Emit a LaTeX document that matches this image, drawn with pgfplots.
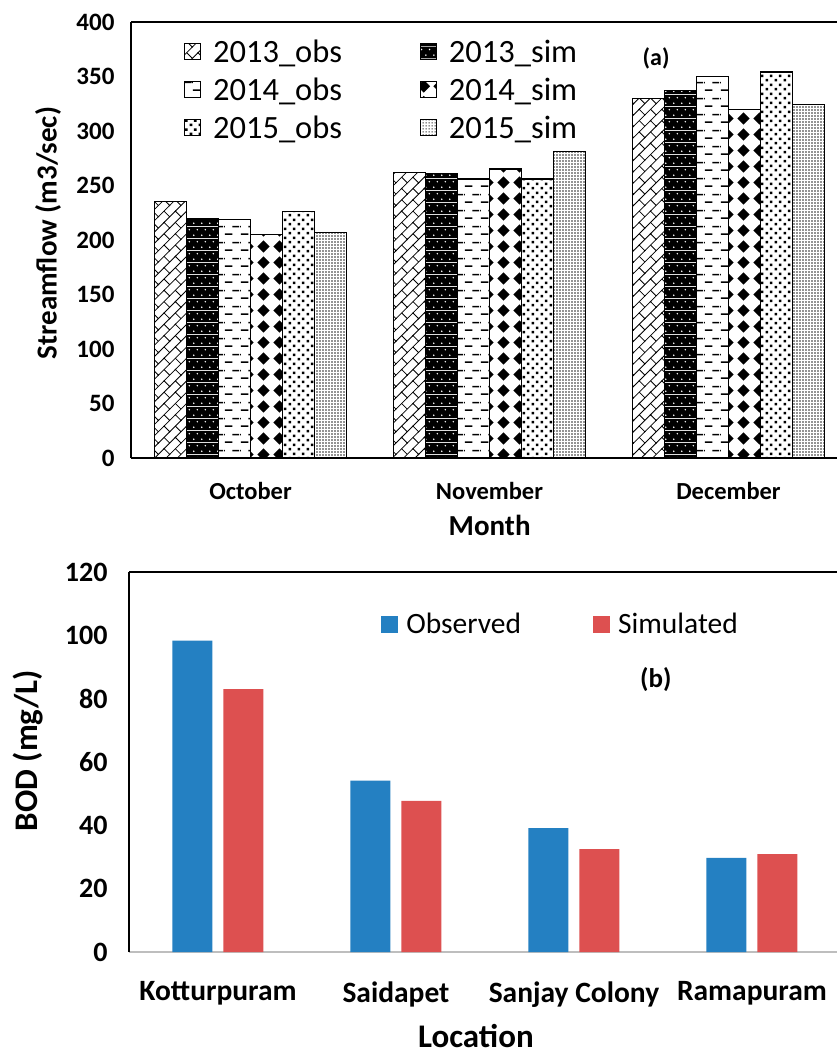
\documentclass[border=0pt]{standalone}
\usepackage{fontspec}
\setmainfont{Carlito}
\usepackage{pgfplots}
\pgfplotsset{compat=1.18}
\usetikzlibrary{patterns,patterns.meta}

% diagonal bricks
\pgfdeclarepattern{
  name=dbricks, type=uncolored,
  bottom left={\pgfpoint{-1pt}{-1pt}},
  top right={\pgfpoint{17pt}{17pt}},
  tile size={\pgfpoint{16pt}{16pt}},
  tile transformation={\pgftransformrotate{45}},
  code={
    \pgfsetlinewidth{0.8pt}
    \pgfpathmoveto{\pgfpoint{-1pt}{0pt}}\pgfpathlineto{\pgfpoint{17pt}{0pt}}
    \pgfpathmoveto{\pgfpoint{-1pt}{8pt}}\pgfpathlineto{\pgfpoint{17pt}{8pt}}
    \pgfpathmoveto{\pgfpoint{0pt}{0pt}}\pgfpathlineto{\pgfpoint{0pt}{8pt}}
    \pgfpathmoveto{\pgfpoint{8pt}{8pt}}\pgfpathlineto{\pgfpoint{8pt}{16pt}}
    \pgfusepath{stroke}
  }
}
% black with white dots
\pgfdeclarepattern{
  name=blackdots, type=colored,
  bottom left={\pgfpoint{0pt}{0pt}},
  top right={\pgfpoint{8pt}{12pt}},
  tile size={\pgfpoint{8pt}{12pt}},
  code={
    \pgfsetfillcolor{black}
    \pgfpathrectangle{\pgfpoint{0pt}{0pt}}{\pgfpoint{8pt}{12pt}}
    \pgfusepath{fill}
    \pgfsetfillcolor{white}
    \pgfpathcircle{\pgfpoint{2pt}{3pt}}{0.9pt}
    \pgfpathcircle{\pgfpoint{6pt}{9pt}}{0.9pt}
    \pgfusepath{fill}
  }
}
% dashes
\pgfdeclarepattern{
  name=hdashes, type=uncolored,
  bottom left={\pgfpoint{0pt}{0pt}},
  top right={\pgfpoint{16pt}{16pt}},
  tile size={\pgfpoint{16pt}{16pt}},
  code={
    \pgfsetlinewidth{1.6pt}
    \pgfpathmoveto{\pgfpoint{1pt}{4pt}}\pgfpathlineto{\pgfpoint{9pt}{4pt}}
    \pgfpathmoveto{\pgfpoint{9pt}{12pt}}\pgfpathlineto{\pgfpoint{16pt}{12pt}}
    \pgfpathmoveto{\pgfpoint{0pt}{12pt}}\pgfpathlineto{\pgfpoint{1pt}{12pt}}
    \pgfusepath{stroke}
  }
}
% diamonds
\pgfdeclarepattern{
  name=diamonds, type=uncolored,
  bottom left={\pgfpoint{0pt}{0pt}},
  top right={\pgfpoint{16pt}{16pt}},
  tile size={\pgfpoint{16pt}{16pt}},
  code={
    \pgfpathmoveto{\pgfpoint{8pt}{1.5pt}}
    \pgfpathlineto{\pgfpoint{14.5pt}{8pt}}
    \pgfpathlineto{\pgfpoint{8pt}{14.5pt}}
    \pgfpathlineto{\pgfpoint{1.5pt}{8pt}}
    \pgfpathclose
    \pgfusepath{fill}
  }
}
% staggered small squares
\pgfdeclarepattern{
  name=sqdots, type=uncolored,
  bottom left={\pgfpoint{0pt}{0pt}},
  top right={\pgfpoint{9pt}{9pt}},
  tile size={\pgfpoint{9pt}{9pt}},
  code={
    \pgfpathrectangle{\pgfpoint{0.8pt}{0.8pt}}{\pgfpoint{2.8pt}{2.8pt}}
    \pgfpathrectangle{\pgfpoint{5.3pt}{5.3pt}}{\pgfpoint{2.8pt}{2.8pt}}
    \pgfusepath{fill}
  }
}
% fine dots
\pgfdeclarepattern{
  name=finedots, type=uncolored,
  bottom left={\pgfpoint{0pt}{0pt}},
  top right={\pgfpoint{3.2pt}{3.2pt}},
  tile size={\pgfpoint{3.2pt}{3.2pt}},
  code={
    \pgfpathrectangle{\pgfpoint{0.6pt}{0.6pt}}{\pgfpoint{1.3pt}{1.3pt}}
    \pgfusepath{fill}
  }
}

\definecolor{obsblue}{RGB}{36,128,194}
\definecolor{simred}{RGB}{221,80,80}
\definecolor{axgray}{RGB}{190,190,190}

\begin{document}
\begin{tikzpicture}
\useasboundingbox (0,0) rectangle (837pt,1054pt);
% ---------------- panel (a)
\begin{axis}[
  at={(131pt,596pt)}, anchor=south west,
  width=706pt, height=436pt, scale only axis,
  xmin=-0.5, xmax=2.454, ymin=0, ymax=400,
  ybar=0pt, bar width=32pt,
  axis lines=left, axis line style={-, line width=1.5pt, black},
  xtick={0,1,2}, xticklabels={October,November,December},
  ytick={0,50,...,400},
  major tick length=0pt,
  /pgf/number format/assume math mode=true,
  xticklabel style={font=\bfseries\fontsize{24.5}{28}\selectfont, yshift=-21pt},
  yticklabel style={font=\bfseries\fontsize{25}{29}\selectfont, xshift=-13pt},
  xlabel={Month}, ylabel={Streamflow (m3/sec)},
  xlabel style={font=\bfseries\fontsize{29}{34}\selectfont, at={(axis description cs:0.508,-0.154)}, anchor=center},
  ylabel style={font=\bfseries\fontsize{29}{34}\selectfont, at={(axis description cs:-0.1176,0.516)}, anchor=center},
  legend columns=2,
  legend cell align=left,
  legend style={draw=none, fill=none, inner sep=0pt, at={(0.075,0.962)}, anchor=north west,
    font=\fontsize{32.5}{36}\selectfont, row sep=12pt, nodes={inner sep=1pt},
    /tikz/every odd column/.append style={column sep=11pt},
    /tikz/every even column/.append style={column sep=77pt}},
  legend image code/.code={\draw[#1, line width=1pt] (0pt,-8pt) rectangle (16pt,8pt);},
  clip=false,
]
\addplot[draw=black, line width=1.3pt, pattern=dbricks] coordinates {(0,235) (1,262) (2,330)};
\addplot[draw=black, line width=1.3pt, pattern=blackdots] coordinates {(0,220) (1,261) (2,337)};
\addplot[draw=black, line width=1.3pt, pattern=hdashes] coordinates {(0,219) (1,256) (2,350)};
\addplot[draw=black, line width=1.3pt, pattern=diamonds] coordinates {(0,205) (1,265) (2,320)};
\addplot[draw=black, line width=1.3pt, pattern=sqdots] coordinates {(0,226) (1,256) (2,354)};
\addplot[draw=black, line width=1.3pt, pattern=finedots] coordinates {(0,207) (1,281) (2,324)};
\legend{2013\_obs,2013\_sim,2014\_obs,2014\_sim,2015\_obs,2015\_sim}
\draw[line width=1.5pt] (rel axis cs:0,1) -- (rel axis cs:1,1);
\node[font=\bfseries\fontsize{24}{28}\selectfont] at (axis cs:1.697,367) {(a)};
\end{axis}
% ---------------- panel (b)
\begin{axis}[
  at={(129pt,102pt)}, anchor=south west,
  width=708pt, height=380pt, scale only axis,
  xmin=-0.5, xmax=3.478, ymin=0, ymax=120,
  ybar=11pt, bar width=40pt,
  axis lines=left, axis line style={-, line width=1.5pt, black},
  x axis line style={draw=axgray, line width=2pt},
  xtick={0,1,2,3}, xticklabels={Kotturpuram,Saidapet,Sanjay Colony,Ramapuram},
  ytick={0,20,...,120},
  major tick length=0pt,
  /pgf/number format/assume math mode=true,
  xticklabel style={font=\bfseries\fontsize{29.5}{33}\selectfont, yshift=-26pt},
  yticklabel style={font=\bfseries\fontsize{28}{32}\selectfont, xshift=-18pt},
  xlabel={Location}, ylabel={BOD (mg/L)},
  xlabel style={font=\bfseries\fontsize{33}{38}\selectfont, at={(axis description cs:0.49,-0.222)}, anchor=center},
  ylabel style={font=\bfseries\fontsize{33}{38}\selectfont, at={(axis description cs:-0.143,0.53)}, anchor=center},
  legend columns=2,
  legend cell align=left,
  legend style={draw=none, fill=none, inner sep=0pt, at={(0.356,0.894)}, anchor=north west,
    font=\fontsize{29.5}{33}\selectfont, nodes={inner sep=1pt},
    /tikz/every odd column/.append style={column sep=7pt},
    /tikz/every even column/.append style={column sep=71pt}},
  legend image code/.code={\fill[#1] (0pt,-8.5pt) rectangle (17pt,8.5pt);},
  clip=false,
]
\addplot[draw=none, fill=obsblue] coordinates {(0,98.3) (1,54.1) (2,39.1) (3,29.7)};
\addplot[draw=none, fill=simred] coordinates {(0,83.0) (1,47.7) (2,32.5) (3,30.9)};
\legend{Observed,Simulated}
\draw[line width=1.5pt] (rel axis cs:0,1) -- (rel axis cs:1,1);
\node[font=\bfseries\fontsize{27}{31}\selectfont] at (axis cs:2.46,85.9) {(b)};
\end{axis}
\end{tikzpicture}
\end{document}
